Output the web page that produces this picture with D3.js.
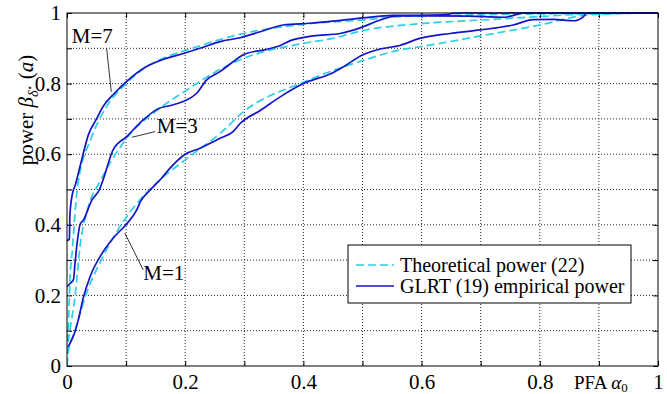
<!DOCTYPE html>
<html>
<head>
<meta charset="utf-8">
<script src="https://cdn.jsdelivr.net/npm/d3@7"></script>
<style>
  body { margin: 0; background: #fff; }
  text { font-family: "Liberation Serif", "DejaVu Serif", serif; }
</style>
</head>
<body>
<svg id="chart" width="667" height="394"></svg>
<script>
// theoretical power (dashed), [PFA, power]
const theoryM1 = [[0,0],[0.002,0.036],[0.0135,0.1],[0.033,0.206],[0.061,0.31],[0.101,0.423],[0.146,0.51],[0.2,0.584],[0.259,0.659],[0.3,0.722],[0.4,0.804],[0.5,0.865],[0.563,0.895],[0.6,0.905],[0.7,0.935],[0.8,0.966],[0.879,0.994],[0.95,0.999],[1,1]];
const theoryM3 = [[0,0],[0.0005,0.036],[0.005,0.1],[0.0135,0.196],[0.022,0.338],[0.036,0.451],[0.055,0.52],[0.101,0.645],[0.157,0.73],[0.203,0.782],[0.259,0.84],[0.3,0.872],[0.4,0.914],[0.45,0.928],[0.5,0.95],[0.6,0.97],[0.7,0.98],[0.8,0.99],[0.879,0.997],[1,1]];
const theoryM7 = [[0,0],[0.0005,0.036],[0.002,0.1],[0.005,0.244],[0.0095,0.338],[0.0135,0.432],[0.018,0.51],[0.042,0.65],[0.067,0.735],[0.1,0.8],[0.135,0.848],[0.169,0.876],[0.203,0.895],[0.259,0.925],[0.293,0.94],[0.4,0.968],[0.5,0.98],[0.563,0.99],[0.7,0.995],[1,1]];

// GLRT empirical power (solid)
const glrtM1 = [[0.002,0.055],[0.008,0.074],[0.0135,0.097],[0.019,0.13],[0.028,0.196],[0.039,0.253],[0.056,0.31],[0.078,0.362],[0.1,0.401],[0.118,0.442],[0.124,0.465],[0.14,0.497],[0.16,0.532],[0.174,0.56],[0.2,0.6],[0.225,0.617],[0.259,0.645],[0.281,0.664],[0.293,0.687],[0.327,0.724],[0.366,0.768],[0.4,0.8],[0.45,0.831],[0.468,0.848],[0.5,0.881],[0.53,0.898],[0.563,0.908],[0.597,0.928],[0.648,0.942],[0.699,0.952],[0.755,0.966],[0.789,0.981],[0.823,0.982],[0.857,0.978],[0.874,0.99],[0.879,1],[1,1]];
const glrtM3 = [[0,0.225],[0.006,0.235],[0.011,0.245],[0.0135,0.29],[0.018,0.36],[0.022,0.4],[0.028,0.414],[0.042,0.47],[0.055,0.5],[0.061,0.527],[0.078,0.612],[0.101,0.65],[0.129,0.697],[0.152,0.727],[0.18,0.74],[0.203,0.754],[0.219,0.772],[0.236,0.81],[0.259,0.834],[0.281,0.862],[0.3,0.883],[0.338,0.897],[0.36,0.907],[0.377,0.921],[0.417,0.935],[0.462,0.942],[0.496,0.958],[0.53,0.98],[0.558,0.992],[0.62,0.992],[0.68,0.991],[0.74,0.988],[0.76,0.995],[0.77,1],[1,1]];
const glrtM7 = [[0,0.355],[0.004,0.36],[0.005,0.43],[0.0095,0.49],[0.0135,0.51],[0.025,0.585],[0.036,0.654],[0.05,0.7],[0.061,0.735],[0.08,0.772],[0.1,0.805],[0.129,0.843],[0.157,0.865],[0.2025,0.888],[0.225,0.9],[0.259,0.919],[0.293,0.93],[0.327,0.947],[0.366,0.966],[0.411,0.971],[0.45,0.977],[0.501,0.986],[0.552,0.993],[0.62,0.994],[0.645,0.996],[0.655,1],[1,1]];

const xTicks = [0, 0.2, 0.4, 0.6, 0.8, 1];
const yTicks = [0, 0.2, 0.4, 0.6, 0.8, 1];
const gridTicks = [0.1, 0.2, 0.3, 0.4, 0.5, 0.6, 0.7, 0.8, 0.9];

const legendLabels = ["Theoretical power (22)", "GLRT (19) empirical power"];
const curveLabels = [
  { text: "M=7", x: 0.008, y: 0.914, lx1: 0.067, ly1: 0.9, lx2: 0.075, ly2: 0.777 },
  { text: "M=3", x: 0.152, y: 0.66, lx1: 0.149, ly1: 0.664, lx2: 0.11, ly2: 0.648 },
  { text: "M=1", x: 0.129, y: 0.244, lx1: 0.129, ly1: 0.272, lx2: 0.098, ly2: 0.376 }
];

const svg = d3.select("#chart");
const margin = {top: 13, right: 9, bottom: 28, left: 67};
const width = 667 - margin.left - margin.right;
const height = 394 - margin.top - margin.bottom;

const g = svg.append("g")
    .attr("transform", "translate(" + margin.left + "," + margin.top + ")");

const x = d3.scaleLinear().domain([0, 1]).range([0, width]);
const y = d3.scaleLinear().domain([0, 1]).range([height, 0]);

// dotted grid
g.selectAll(".vgrid")
  .data(gridTicks)
  .enter()
  .append("line")
    .attr("x1", d => x(d)).attr("x2", d => x(d))
    .attr("y1", 0).attr("y2", height)
    .attr("stroke", "#222")
    .attr("stroke-width", 1)
    .attr("stroke-dasharray", "1,2");

g.selectAll(".hgrid")
  .data(gridTicks)
  .enter()
  .append("line")
    .attr("y1", d => y(d)).attr("y2", d => y(d))
    .attr("x1", 0).attr("x2", width)
    .attr("stroke", "#222")
    .attr("stroke-width", 1)
    .attr("stroke-dasharray", "1,2");

// axes, ticks pointing inwards on all four sides
const tickVals = d3.range(0, 1.0001, 0.1);
const fmtX = d => xTicks.some(t => Math.abs(t - d) < 1e-9) ? String(+d.toFixed(1)) : "";
const fmtY = d => yTicks.some(t => Math.abs(t - d) < 1e-9) ? String(+d.toFixed(1)) : "";

function styleAxis(sel) {
  sel.select(".domain").remove();
  sel.selectAll("line").attr("stroke", "#000");
  sel.selectAll("text")
    .style("font-size", "21px")
    .style("font-family", "'Liberation Serif', serif")
    .attr("fill", "#000");
}

g.append("g")
  .attr("transform", "translate(0," + height + ")")
  .call(d3.axisBottom(x).tickValues(tickVals).tickSizeInner(-5).tickSizeOuter(0)
        .tickPadding(8).tickFormat(fmtX))
  .call(styleAxis);

g.append("g")
  .call(d3.axisLeft(y).tickValues(tickVals).tickSizeInner(-5).tickSizeOuter(0)
        .tickPadding(6).tickFormat(fmtY))
  .call(styleAxis);

g.append("g")
  .call(d3.axisTop(x).tickValues(tickVals).tickSizeInner(-5).tickSizeOuter(0).tickFormat(""))
  .call(styleAxis);

g.append("g")
  .attr("transform", "translate(" + width + ",0)")
  .call(d3.axisRight(y).tickValues(tickVals).tickSizeInner(-5).tickSizeOuter(0).tickFormat(""))
  .call(styleAxis);

// curves
const line = d3.line()
  .x(d => x(d[0]))
  .y(d => y(d[1]))
  .curve(d3.curveMonotoneX);

g.append("clipPath").attr("id", "plotclip")
  .append("rect").attr("x", 0).attr("y", -1).attr("width", width).attr("height", height + 1);

const curves = g.append("g").attr("clip-path", "url(#plotclip)");

[theoryM1, theoryM3, theoryM7].forEach(data => {
  curves.append("path")
    .datum(data)
    .attr("d", line)
    .attr("fill", "none")
    .attr("stroke", "#2ccfe6")
    .attr("stroke-width", 1.7)
    .attr("stroke-dasharray", "8,4");
});

[glrtM1, glrtM3, glrtM7].forEach(data => {
  curves.append("path")
    .datum(data)
    .attr("d", line)
    .attr("fill", "none")
    .attr("stroke", "#1414c8")
    .attr("stroke-width", 1.7);
});

// frame
g.append("rect")
  .attr("width", width).attr("height", height)
  .attr("fill", "none").attr("stroke", "#000").attr("stroke-width", 1);

// curve annotations
curveLabels.forEach(c => {
  g.append("line")
    .attr("x1", x(c.lx1)).attr("y1", y(c.ly1))
    .attr("x2", x(c.lx2)).attr("y2", y(c.ly2))
    .attr("stroke", "#000").attr("stroke-width", 0.8);
  g.append("text")
    .attr("x", x(c.x)).attr("y", y(c.y))
    .style("font-size", "21px")
    .text(c.text);
});

// legend
const legend = g.append("g").attr("transform", "translate(281,232)");
legend.append("rect")
  .attr("width", 283).attr("height", 58)
  .attr("fill", "#fff").attr("stroke", "#000").attr("stroke-width", 1);

legendLabels.forEach((label, i) => {
  const ly = 20 + i * 21;
  legend.append("line")
    .attr("x1", 8).attr("x2", 46)
    .attr("y1", ly).attr("y2", ly)
    .attr("stroke", i === 0 ? "#2ccfe6" : "#1414c8")
    .attr("stroke-width", 1.7)
    .attr("stroke-dasharray", i === 0 ? "8,4" : null);
  legend.append("text")
    .attr("x", 52).attr("y", ly)
    .attr("dy", "0.33em")
    .style("font-size", "20px")
    .text(label);
});

// axis labels
const xl = svg.append("text")
  .attr("x", 574).attr("y", 389)
  .style("font-size", "19px");
xl.append("tspan").text("PFA ");
xl.append("tspan").style("font-style", "italic").text("α");
xl.append("tspan").attr("dy", 3).style("font-size", "13px").text("0");

const yl = svg.append("text")
  .attr("transform", "translate(33,110) rotate(-90)")
  .attr("text-anchor", "middle")
  .style("font-size", "21px");
yl.append("tspan").text("power ");
yl.append("tspan").style("font-style", "italic").text("β");
yl.append("tspan").attr("dy", 5).style("font-size", "14px").style("font-style", "italic").text("δ");
yl.append("tspan").attr("dy", -5).style("font-size", "10px").text("⋆");
yl.append("tspan").text(" (");
yl.append("tspan").style("font-style", "italic").text("a");
yl.append("tspan").text(")");
</script>
</body>
</html>
